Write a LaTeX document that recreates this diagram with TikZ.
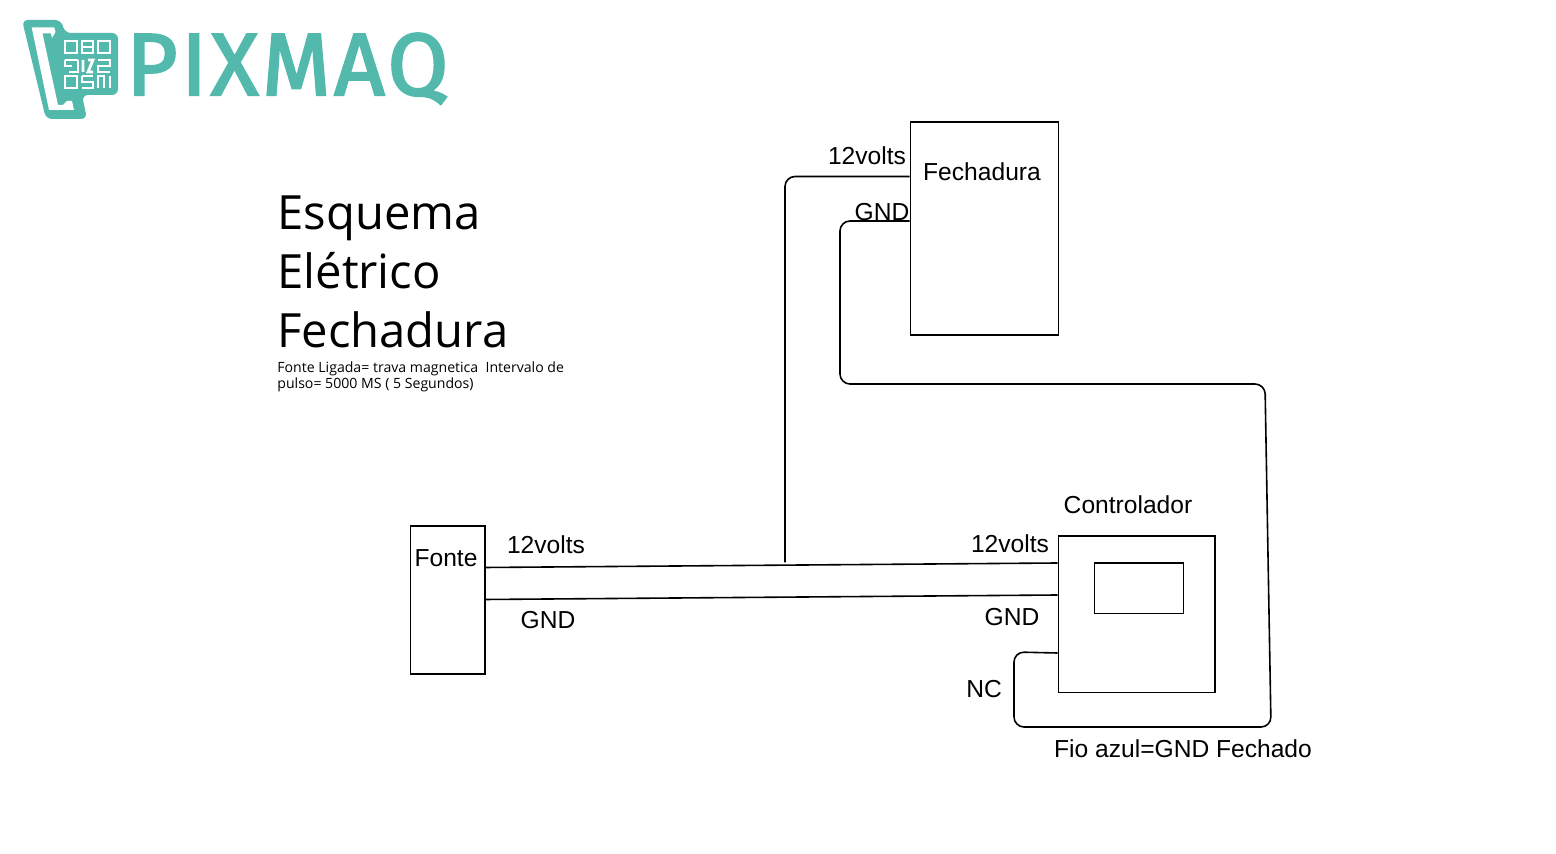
\documentclass[tikz,border=0pt]{standalone}
\usepackage{fontspec}
\setmainfont{Liberation Sans}
\newfontfamily\titlefont{Open Sans}
\newfontfamily\logofont[FakeBold=2.6,LetterSpace=4.2]{Fira Sans}
\usepackage{tikz}
\definecolor{pixteal}{RGB}{82,185,172}
\tikzset{
  box/.style={draw,line width=0.8pt,inner sep=0pt,anchor=north west},
  wire/.style={line width=0.8pt,rounded corners=5pt},
  lbl/.style={font=\fontsize{12.3}{15}\selectfont,inner sep=0pt},
  qrline/.style={draw=white,line width=1.4pt}
}
\begin{document}
\begin{tikzpicture}[x=0.5pt,y=-0.5pt]
\useasboundingbox (0,0) rectangle (1556,854);
% logo
\fill[pixteal,rounded corners=3pt] (22,20) -- (61,20) -- (65,33) -- (118,33) -- (118,95) -- (82,95) -- (87,119) -- (46,119) -- cycle;
\fill[white] (31.7,27.5) -- (54.3,27.5) -- (55.5,32) -- (52,38) -- (51,33.5) -- (42.5,33.5) -- (58,105) -- (63,105) -- (67,101) -- (72,101) -- (74,110) -- (49,110) -- cycle;
% qr squares
\foreach \qx/\qy in {65/41,98/41,65/76}{
  \draw[qrline] (\qx,\qy) rectangle ++(12,12);
}
\draw[qrline] (82,41) rectangle ++(11,12);
\draw[qrline] (82,47) -- (93,47);
\draw[qrline] (65,60) -- (78,60) (65,60) -- (65,66) -- (72,66) (78,60) -- (78,72) -- (69,72);
\draw[qrline] (83,60) -- (83,72) (88,60) -- (93,60) -- (88,72) -- (93,72);
\draw[qrline] (98,60) -- (110,60) -- (110,66) -- (98,66) -- (98,72) -- (110,72);
\draw[qrline] (82,76) -- (93,76) (82,76) -- (82,82) -- (93,82) -- (93,88) -- (82,88);
\draw[qrline] (98,88) -- (98,76) -- (104,76) -- (104,88) (110,76) -- (110,88);
\node[anchor=base west,inner sep=0pt,text=pixteal,font=\logofont\fontsize{44}{44}\selectfont] (logotext) at (126,95) {PIXMAQ};
% title
\node[anchor=north west,inner sep=0pt,align=left,font=\titlefont\fontsize{23.6}{29.5}\selectfont] (title) at (277,195) {Esquema\\Elétrico\\Fechadura};
\node[anchor=north west,inner sep=0pt,align=left,font=\titlefont\fontsize{7.05}{8}\selectfont] (subtitle) at (277,361) {Fonte Ligada= trava magnetica\ \ Intervalo de\\pulso= 5000 MS ( 5 Segundos)};
% boxes
\node[box,minimum width=74pt,minimum height=106.5pt] (fechadura) at (909.5,121.5) {};
\node[box,minimum width=37.25pt,minimum height=73.75pt] (fonte) at (409.5,525.5) {};
\node[box,minimum width=78.25pt,minimum height=78pt] (controlador) at (1057.5,535.5) {};
\node[box,minimum width=44.5pt,minimum height=25pt] (visor) at (1093.5,562.5) {};
% wire ends
\coordinate (fonteV) at (484,567.5);
\coordinate (fonteG) at (484,599.5);
\coordinate (ctrlV) at (1057.5,563);
\coordinate (ctrlG) at (1057.5,595);
\coordinate (ctrlNC) at (1057.5,653);
\coordinate (fechV) at (909.5,176.5);
\coordinate (fechG) at (909.5,221);
\coordinate (tap) at (785,562.5);
% wires
\draw[wire] (fonteV) -- (ctrlV);
\draw[wire] (fonteG) -- (ctrlG);
\draw[wire] (tap) -- (785,176.5) -- (fechV);
\draw[wire] (fechG) -- (840,221) -- (840,384) -- (1265,384) -- (1271,727) -- (1014,727) -- (1014,652) -- (ctrlNC);
% labels
\node[lbl] (fechlabel) at (982,172) {Fechadura};
\node[lbl] (fontelabel) at (446,558) {Fonte};
\node[lbl] (ctrllabel) at (1128,505) {Controlador};
\node[lbl] (voltsa) at (867,156) {12volts};
\node[lbl] (gnda) at (882,212) {GND};
\node[lbl] (voltsb) at (546,545) {12volts};
\node[lbl] (gndb) at (548,620) {GND};
\node[lbl] (voltsc) at (1010,544) {12volts};
\node[lbl] (gndc) at (1012,617) {GND};
\node[lbl] (nclabel) at (984,689) {NC};
\node[lbl] (fiolabel) at (1183,749) {Fio azul=GND Fechado};
\end{tikzpicture}
\end{document}
